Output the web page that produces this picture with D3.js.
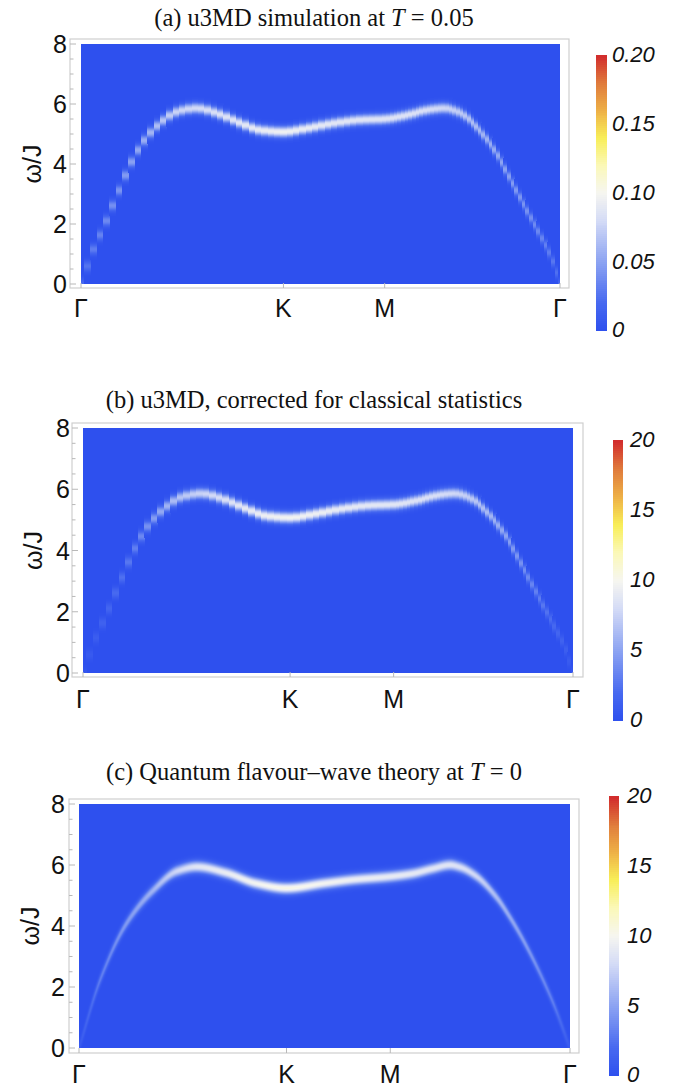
<!DOCTYPE html>
<html><head><meta charset="utf-8">
<script src="https://cdn.jsdelivr.net/npm/d3@7"></script>
<style>body{margin:0;background:#fff} svg{display:block}</style>
</head><body>
<script>
// ---------------- DATA ----------------
// Path segment lengths (units of 2π/a): Γ–K, K–M, M–Γ
const segLengths = [0.6667, 0.3333, 0.5774];
const tickLabels = ["Γ", "K", "M", "Γ"];
// simulation momentum grid: number of q-steps on each segment
const simGrid = [32, 16, 48];
const omegaTicks = [0, 2, 4, 6, 8];

// u3MD dispersion (panels a, b)
const kSim = [0, 0.0394, 0.0789, 0.1230, 0.1617, 0.2051, 0.2603, 0.3155, 0.3817, 0.4480, 0.5253, 0.5899, 0.6667, 0.7445, 0.8329, 0.9212, 1.0, 1.0742, 1.1405, 1.1957, 1.2509, 1.3061, 1.3613, 1.4149, 1.4701, 1.5143, 1.5474, 1.5774];
const wSim = [0, 1.10, 2.00, 3.07, 3.97, 4.74, 5.36, 5.74, 5.86, 5.69, 5.36, 5.13, 5.07, 5.19, 5.36, 5.47, 5.50, 5.63, 5.80, 5.86, 5.69, 5.19, 4.47, 3.47, 2.41, 1.58, 0.91, 0];
// peak intensity, panel (a)
const intA = [0.020, 0.030, 0.036, 0.042, 0.048, 0.055, 0.066, 0.076, 0.080, 0.084, 0.088, 0.092, 0.096, 0.092, 0.088, 0.087, 0.087, 0.085, 0.082, 0.078, 0.071, 0.062, 0.054, 0.047, 0.041, 0.035, 0.029, 0.020];
// peak intensity, panel (b)
const intB = [0.5, 1.0, 1.6, 2.3, 3.0, 4.0, 5.6, 6.8, 7.6, 8.2, 9.0, 9.5, 9.8, 9.5, 9.1, 8.9, 8.8, 8.5, 8.2, 7.8, 7.1, 6.1, 5.0, 4.0, 3.0, 2.0, 1.3, 0.6];

// flavour-wave dispersion (panel c)
const kQ = [0, 0.0678, 0.1530, 0.2366, 0.3155, 0.3786, 0.4732, 0.5679, 0.6667, 0.7887, 0.8833, 1.0, 1.0726, 1.1357, 1.1925, 1.2240, 1.2756, 1.3408, 1.3850, 1.4386, 1.5238, 1.5774];
const wQ = [0, 2.23, 4.09, 5.15, 5.80, 5.94, 5.74, 5.40, 5.24, 5.40, 5.52, 5.62, 5.72, 5.88, 6.00, 5.93, 5.64, 4.95, 4.28, 3.32, 1.47, 0];
const intC = [0.8, 3.0, 4.5, 5.8, 7.8, 8.8, 9.3, 9.8, 10.4, 9.8, 9.4, 9.2, 9.0, 8.8, 8.7, 8.4, 7.8, 6.2, 5.3, 4.5, 3.0, 0.8];

// colour bars
const cbTicksA = [0, 0.05, 0.10, 0.15, 0.20];
const cbLabelsA = ["0", "0.05", "0.10", "0.15", "0.20"];
const cbTicksBC = [0, 5, 10, 15, 20];
const cbLabelsBC = ["0", "5", "10", "15", "20"];
const colorStops = [0, 0.1, 0.25, 0.4, 0.5, 0.6, 0.7, 0.8, 0.9, 1];
const colorValues = ["#2e50ee", "#4769f0", "#8ca3f2", "#d4dbf6", "#f6f6f0", "#fbf8b8", "#f8ee58", "#eeb046", "#df7a3c", "#d22b2c"];

// ---------------- LAYOUT ----------------
const W = 674, H = 1087;
const svg = d3.select("body").append("svg").attr("width", W).attr("height", H);
const totalK = d3.sum(segLengths);
const tickK = [0, ...d3.cumsum(segLengths)];
const sansFont = "'Liberation Sans', Arial, sans-serif";
const serifFont = "'Liberation Serif', 'Times New Roman', serif";

// smooth (monotone cubic Hermite) curve through read-off points
function smoothThrough(xs, ys) {
  const n = xs.length, h = [], d = [], m = new Array(n);
  for (let i = 0; i < n - 1; i++) { h[i] = xs[i + 1] - xs[i]; d[i] = (ys[i + 1] - ys[i]) / h[i]; }
  m[0] = d[0]; m[n - 1] = d[n - 2];
  for (let i = 1; i < n - 1; i++) {
    if (d[i - 1] * d[i] <= 0) m[i] = 0;
    else {
      const w1 = 2 * h[i] + h[i - 1], w2 = h[i] + 2 * h[i - 1];
      m[i] = (w1 + w2) / (w1 / d[i - 1] + w2 / d[i]);
    }
  }
  const bis = d3.bisector(v => v).right;
  return x => {
    let i = Math.min(n - 2, Math.max(0, bis(xs, x) - 1));
    const t = (x - xs[i]) / h[i], t2 = t * t, t3 = t2 * t;
    return (2 * t3 - 3 * t2 + 1) * ys[i] + (t3 - 2 * t2 + t) * h[i] * m[i]
      + (-2 * t3 + 3 * t2) * ys[i + 1] + (t3 - t2) * h[i] * m[i + 1];
  };
}

const panels = [
  { title: ["(a) u3MD simulation at ", "T", " = 0.05"], titleY: 26,
    x0: 81, x1: 560, y0: 44, y1: 284, frame: [70, 569, 39, 288],
    cb: [596, 607, 55, 330], cbLabelX: 612, xLabY: 317, yTickEnd: 67, yLabX: 32,
    max: 0.2, cbTicks: cbTicksA, cbLabels: cbLabelsA,
    k: kSim, w: wSim, I: intA, grid: simGrid, sigma: 0.125 },
  { title: ["(b) u3MD, corrected for classical statistics"], titleY: 408,
    x0: 83, x1: 573, y0: 428, y1: 673, frame: [72, 583, 423, 677],
    cb: [613, 623, 440, 720], cbLabelX: 630, xLabY: 708, yTickEnd: 70, yLabX: 33,
    max: 20, cbTicks: cbTicksBC, cbLabels: cbLabelsBC,
    k: kSim, w: wSim, I: intB, grid: simGrid, sigma: 0.125 },
  { title: ["(c) Quantum flavour–wave theory at ", "T", " = 0"], titleY: 780,
    x0: 79, x1: 570, y0: 804, y1: 1048, frame: [69, 579, 799, 1053],
    cb: [609, 619, 796, 1075], cbLabelX: 627, xLabY: 1083, yTickEnd: 65, yLabX: 30,
    max: 20, cbTicks: cbTicksBC, cbLabels: cbLabelsBC,
    k: kQ, w: wQ, I: intC, grid: null, sigma: 0.13 }
];

function drawPanel(p) {
  const g = svg.append("g");
  const x = d3.scaleLinear().domain([0, totalK]).range([p.x0, p.x1]);
  const y = d3.scaleLinear().domain([0, 8]).range([p.y1, p.y0]);
  const color = d3.scaleLinear().domain(colorStops.map(f => f * p.max)).range(colorValues)
    .interpolate(d3.interpolateRgb).clamp(true);
  const disp = smoothThrough(p.k, p.w);
  const inten = d3.scaleLinear().domain(p.k).range(p.I);

  // title
  const t = g.append("text").attr("x", 314).attr("y", p.titleY).attr("text-anchor", "middle")
    .attr("font-family", serifFont).attr("font-size", 24.5).attr("fill", "#111");
  p.title.forEach(s => {
    const ts = t.append("tspan").text(s);
    if (s === "T") ts.attr("font-style", "italic");
  });

  // frame
  const [fl, fr, ft, fb] = p.frame;
  g.append("rect").attr("x", fl).attr("y", ft).attr("width", fr - fl).attr("height", fb - ft)
    .attr("fill", "none").attr("stroke", "#cfcfcf").attr("stroke-width", 1.2);

  // background
  g.append("rect").attr("x", x(0)).attr("y", y(8)).attr("width", x(totalK) - x(0))
    .attr("height", y(0) - y(8)).attr("fill", color(0));

  // columns
  const cols = [];
  if (p.grid) {
    const q = [];
    p.grid.forEach((n, j) => {
      for (let i = (j === 0 ? 0 : 1); i <= n; i++) q.push(tickK[j] + i * segLengths[j] / n);
    });
    q.forEach((k, i) => {
      const a = i === 0 ? 0 : (q[i - 1] + k) / 2;
      const b = i === q.length - 1 ? totalK : (q[i + 1] + k) / 2;
      cols.push({ a, b, samples: [k] });
    });
  } else {
    const n = Math.round(p.x1 - p.x0);
    const dk = totalK / n;
    for (let i = 0; i < n; i++) {
      const a = i * dk, b = (i + 1) * dk;
      cols.push({ a, b, samples: d3.range(4).map(j => a + (j + 0.5) * dk / 4) });
    }
  }
  const nBins = Math.round(p.y1 - p.y0);
  const dw = 8 / nBins;
  const cells = [];
  cols.forEach(c => {
    const ws = c.samples.map(k => Math.max(0, disp(k)));
    const Is = c.samples.map(k => inten(k));
    const lo = Math.max(0, Math.floor((d3.min(ws) - 4 * p.sigma) / dw));
    const hi = Math.min(nBins - 1, Math.ceil((d3.max(ws) + 4 * p.sigma) / dw));
    for (let b = lo; b <= hi; b++) {
      const wc = (b + 0.5) * dw;
      let v = 0;
      ws.forEach((w0, j) => { v += Is[j] * Math.exp(-((wc - w0) ** 2) / (2 * p.sigma * p.sigma)); });
      v /= ws.length;
      if (v > p.max * 0.003) cells.push({ k0: c.a, k1: c.b, w0: b * dw, w1: (b + 1) * dw, v });
    }
  });
  g.append("g").attr("shape-rendering", "crispEdges").selectAll("rect").data(cells).join("rect")
    .attr("x", d => x(d.k0)).attr("y", d => y(d.w1))
    .attr("width", d => x(d.k1) - x(d.k0) + 0.3).attr("height", d => y(d.w0) - y(d.w1) + 0.3)
    .attr("fill", d => color(d.v));

  // y ticks (inward from frame)
  const minor = d3.range(0, 8.01, 0.5);
  g.append("g").selectAll("line").data(minor).join("line")
    .attr("x1", fl).attr("x2", d => fl + (d % 2 === 0 ? 6 : 3.5))
    .attr("y1", d => y(d)).attr("y2", d => y(d))
    .attr("stroke", "#b8b8b8").attr("stroke-width", 1);
  g.append("g").selectAll("text").data(omegaTicks).join("text")
    .attr("x", p.yTickEnd).attr("y", d => y(d)).attr("dy", "0.36em")
    .attr("text-anchor", "end").attr("font-family", sansFont).attr("font-size", 25)
    .attr("fill", "#111").text(d => d);
  g.append("text").attr("transform", `translate(${p.yLabX},${(p.y0 + p.y1) / 2}) rotate(-90)`)
    .attr("text-anchor", "middle").attr("dy", "0.35em")
    .attr("font-family", sansFont).attr("font-size", 25).attr("fill", "#111").text("ω/J");

  // x ticks
  g.append("g").selectAll("line").data(tickK).join("line")
    .attr("x1", d => x(d)).attr("x2", d => x(d)).attr("y1", fb).attr("y2", fb - 5)
    .attr("stroke", "#b8b8b8").attr("stroke-width", 1);
  g.append("g").selectAll("text").data(tickK).join("text")
    .attr("x", d => x(d)).attr("y", p.xLabY).attr("text-anchor", "middle")
    .attr("font-family", sansFont).attr("font-size", 25).attr("fill", "#111")
    .text((d, i) => tickLabels[i]);

  // colour bar
  const [cx0, cx1, cy0, cy1] = p.cb;
  const cy = d3.scaleLinear().domain([0, p.max]).range([cy1, cy0]);
  const nSlices = 140;
  const slices = d3.range(nSlices).map(i => ({ a: i * p.max / nSlices, b: (i + 1) * p.max / nSlices }));
  g.append("g").attr("shape-rendering", "crispEdges").selectAll("rect").data(slices).join("rect")
    .attr("x", cx0).attr("width", cx1 - cx0)
    .attr("y", d => cy(d.b)).attr("height", d => cy(d.a) - cy(d.b) + 0.6)
    .attr("fill", d => color((d.a + d.b) / 2));
  g.append("g").selectAll("text").data(p.cbTicks).join("text")
    .attr("x", p.cbLabelX).attr("y", d => cy(d)).attr("dy", "0.33em")
    .attr("font-family", sansFont).attr("font-size", 22).attr("font-style", "italic")
    .attr("fill", "#111").text((d, i) => p.cbLabels[i]);
}
panels.forEach(drawPanel);
</script>
</body></html>
